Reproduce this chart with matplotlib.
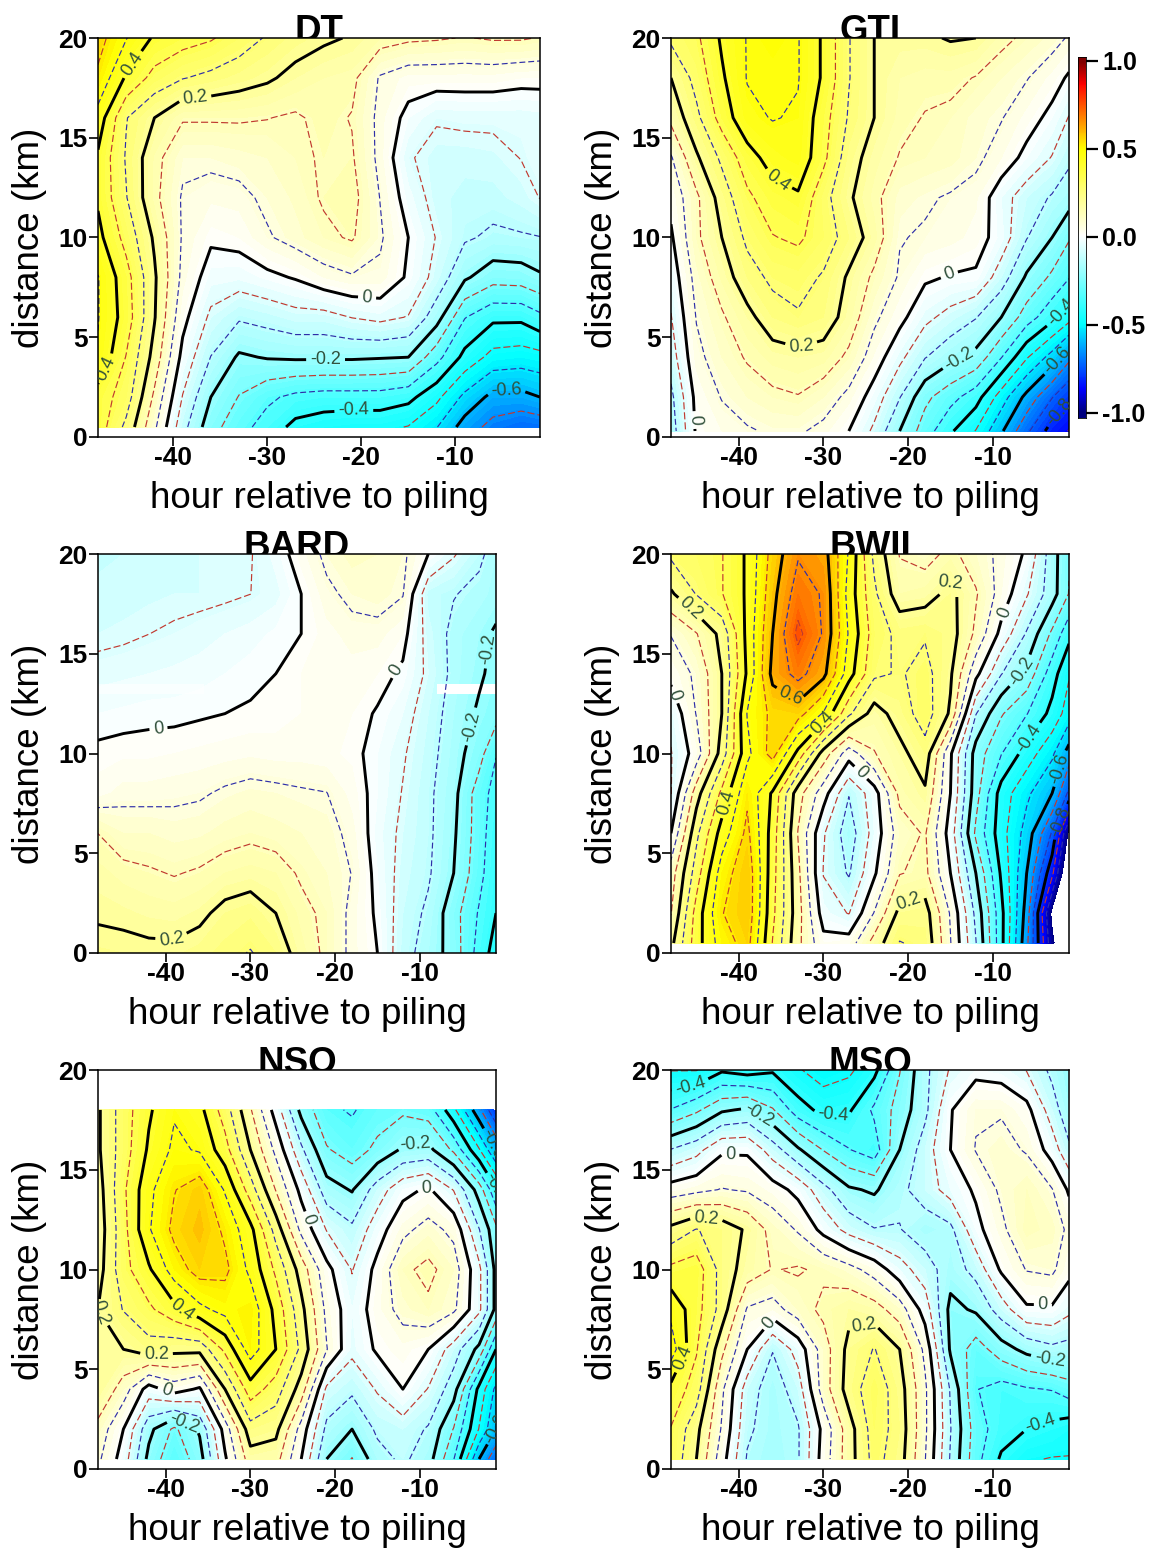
import numpy as np
import matplotlib
matplotlib.use("Agg")
import matplotlib.pyplot as plt
from matplotlib.colors import LinearSegmentedColormap
from matplotlib.patches import Rectangle

plt.rcParams['font.family'] = ['Liberation Sans', 'DejaVu Sans']
plt.rcParams['axes.unicode_minus'] = False

hours = [-48, -45, -42, -39, -36, -33, -30, -27, -24, -21, -18, -15, -12, -9, -6, -3, -1]
km_main = [0.5, 2, 4, 6, 8, 10, 12, 14, 16, 18, 20]
km_gti = [0.3, 2, 4, 6, 8, 10, 12, 14, 16, 18, 20]
km_bard = [0, 2, 4, 6, 8, 10, 12, 14, 16, 18, 20]
km_nso = [0.5, 2, 4, 6, 8, 10, 12, 14, 16, 18]

# rows run from the nearest distance up to the farthest
dt_z = [
    [.37, .25, .08, -.11, -.24, -.31, -.36, -.42, -.44, -.45, -.45, -.47, -.53, -.63, -.69, -.72, -.71],
    [.37, .30, .12, -.07, -.20, -.27, -.32, -.35, -.36, -.36, -.36, -.38, -.45, -.55, -.62, -.62, -.60],
    [.46, .33, .175, -.02, -.135, -.21, -.195, -.19, -.19, -.19, -.195, -.20, -.31, -.42, -.49, -.50, -.49],
    [.47, .37, .205, .02, -.08, -.125, -.11, -.09, -.09, -.065, -.05, -.07, -.17, -.33, -.385, -.385, -.35],
    [.47, .36, .21, .05, -.03, -.035, -.015, .005, .04, .06, .055, -.01, -.09, -.19, -.24, -.235, -.21],
    [.42, .31, .19, .06, .01, .02, .06, .09, .12, .14, .075, 0, -.07, -.125, -.145, -.14, -.135],
    [.39, .27, .15, .06, .045, .05, .08, .105, .14, .155, .065, -.03, -.09, -.11, -.11, -.09, -.065],
    [.39, .26, .155, .08, .08, .09, .10, .12, .14, .14, .05, -.06, -.09, -.09, -.085, -.065, -.05],
    [.44, .27, .20, .14, .14, .14, .135, .125, .15, .13, .05, -.02, -.06, -.055, -.055, -.055, -.05],
    [.52, .39, .31, .27, .25, .23, .21, .18, .16, .15, .06, .03, .03, .03, .03, .02, .02],
    [.56, .47, .39, .36, .34, .30, .26, .23, .21, .195, .16, .145, .14, .13, .14, .14, .13],
]
gti_z = [
    [-.17, .01, .04, .06, .075, .075, .05, 0, -.08, -.20, -.30, -.39, -.47, -.59, -.72, -.83, -.87],
    [-.15, .02, .07, .10, .12, .13, .10, .05, -.03, -.13, -.25, -.31, -.37, -.50, -.62, -.73, -.79],
    [-.10, .05, .10, .14, .17, .18, .17, .12, .035, -.05, -.13, -.18, -.22, -.33, -.46, -.56, -.65],
    [-.07, .07, .125, .18, .24, .26, .24, .17, .08, .02, -.05, -.09, -.13, -.20, -.30, -.38, -.44],
    [-.04, .09, .165, .24, .28, .29, .26, .19, .12, .06, .01, -.005, -.01, -.10, -.21, -.28, -.33],
    [-.01, .12, .20, .28, .33, .345, .30, .24, .17, .07, .06, .05, .03, -.03, -.13, -.20, -.26],
    [.02, .12, .23, .32, .37, .39, .29, .21, .15, .09, .075, .06, .045, -.04, -.10, -.14, -.17],
    [.06, .19, .28, .37, .43, .45, .35, .23, .17, .13, .12, .11, .08, .04, -.02, -.07, -.12],
    [.15, .25, .36, .45, .47, .46, .36, .26, .20, .15, .13, .12, .09, .07, .03, -.02, -.07],
    [.20, .29, .39, .47, .47, .47, .39, .27, .20, .16, .15, .15, .13, .10, .07, .03, -.01],
    [.28, .32, .41, .47, .49, .47, .39, .27, .20, .19, .19, .205, .20, .15, .12, .09, .06],
]
bard_z = [
    [.225, .22, .215, .215, .23, .25, .27, .24, .17, .12, .05, 0, -.11, -.16, -.23, -.36, -.43],
    [.19, .185, .175, .17, .185, .22, .235, .20, .15, .12, .05, -.01, -.10, -.145, -.24, -.34, -.40],
    [.17, .15, .14, .13, .14, .16, .17, .16, .125, .10, .065, -.02, -.09, -.125, -.20, -.31, -.39],
    [.133, .10, .10, .09, .095, .11, .12, .11, .10, .09, .05, -.03, -.08, -.12, -.19, -.30, -.38],
    [.03, .05, .05, .055, .06, .075, .085, .08, .073, .068, .03, -.02, -.07, -.12, -.18, -.30, -.36],
    [.01, .015, .015, .02, .025, .03, .035, .03, .03, .025, .015, -.02, -.06, -.11, -.17, -.24, -.33],
    [-.02, -.015, -.01, -.01, -.005, 0, .005, .01, .02, .025, .02, -.005, -.04, -.10, -.16, -.21, -.24],
    [-.05, -.045, -.04, -.035, -.03, -.02, -.01, 0, .02, .035, .03, .02, -.01, -.08, -.15, -.19, -.22],
    [-.08, -.075, -.067, -.06, -.05, -.04, -.03, -.015, 0, .03, .05, .05, .02, -.09, -.15, -.18, -.21],
    [-.09, -.09, -.085, -.08, -.08, -.075, -.067, -.05, 0, .055, .08, .09, .07, -.11, -.13, -.15, -.17],
    [-.11, -.10, -.095, -.09, -.08, -.075, -.07, -.03, .03, .08, .11, .10, .08, 0, -.06, -.12, -.16],
]
bwii_z = [
    [.18, .37, .50, .56, .33, .15, .02, .03, .16, .27, .25, .07, -.13, -.38, -.65, -.98, -1.15],
    [.13, .36, .53, .58, .35, .16, -.03, -.07, .07, .22, .23, .06, -.15, -.38, -.63, -1.02, -1.12],
    [.10, .30, .50, .58, .36, .15, -.07, -.14, -.01, .13, .15, 0, -.20, -.41, -.60, -.85, -1.10],
    [0, .25, .43, .55, .37, .13, -.06, -.17, -.04, .10, .14, -.03, -.28, -.44, -.56, -.74, -1.02],
    [-.07, .17, .35, .52, .39, .16, .03, -.13, -.03, .15, .19, 0, -.24, -.43, -.52, -.60, -.75],
    [-.07, .03, .23, .45, .56, .38, .17, .03, .13, .18, .24, .01, -.23, -.33, -.43, -.52, -.63],
    [-.05, .07, .20, .47, .55, .56, .46, .28, .17, .23, .30, .19, -.13, -.26, -.33, -.42, -.50],
    [.02, .08, .20, .41, .62, .69, .62, .43, .28, .26, .29, .21, .02, -.13, -.22, -.37, -.46],
    [.07, .13, .22, .42, .60, .75, .66, .46, .30, .25, .26, .23, .12, -.02, -.14, -.28, -.38],
    [.19, .27, .33, .41, .58, .70, .66, .44, .28, .16, .17, .22, .14, .04, -.06, -.17, -.27],
    [.28, .30, .33, .41, .56, .66, .63, .46, .25, .13, .11, .15, .10, .05, -.01, -.17, -.26],
]
nso_z = [
    [.08, -.03, -.22, -.32, -.23, -.01, .17, .16, 0, -.20, -.27, -.16, -.12, -.17, -.33, -.60, -.72],
    [.11, 0, -.18, -.28, -.19, .03, .24, .22, .04, -.15, -.20, -.12, -.10, -.14, -.27, -.47, -.60],
    [.20, .10, -.03, .03, -.01, .20, .37, .30, .17, -.08, -.12, -.06, 0, -.07, -.17, -.42, -.55],
    [.18, .20, .24, .22, .22, .35, .50, .40, .25, .07, -.05, .01, .03, 0, -.10, -.22, -.40],
    [.20, .27, .32, .38, .45, .49, .51, .38, .22, .05, -.04, .03, .09, .12, .08, -.05, -.22],
    [.17, .31, .39, .50, .56, .55, .45, .32, .17, .02, -.07, .02, .12, .15, .10, -.05, -.22],
    [.16, .31, .46, .55, .59, .52, .42, .24, .05, -.07, -.12, -.03, .05, .09, .05, -.13, -.25],
    [.17, .32, .45, .53, .57, .46, .30, .13, -.02, -.17, -.205, -.10, -.02, .01, -.07, -.23, -.39],
    [.19, .30, .41, .48, .46, .36, .20, .05, -.12, -.26, -.30, -.25, -.19, -.18, -.28, -.46, -.60],
    [.19, .30, .39, .46, .42, .30, .14, -.03, -.22, -.32, -.34, -.30, -.28, -.30, -.45, -.65, -.80],
]
mso_z = [
    [.32, .20, .03, -.14, -.18, -.14, .03, .17, .29, .23, .07, -.14, -.31, -.41, -.46, -.47, -.47],
    [.33, .22, .06, -.12, -.17, -.14, .02, .17, .30, .24, .08, -.13, -.30, -.37, -.40, -.42, -.44],
    [.38, .30, .08, -.10, -.17, -.10, .10, .23, .31, .23, .08, -.14, -.33, -.36, -.34, -.33, -.30],
    [.50, .34, .15, 0, -.13, -.04, .10, .22, .27, .20, .05, -.21, -.30, -.23, -.18, -.15, -.16],
    [.45, .36, .24, .06, .04, .10, .15, .18, .16, .10, -.03, -.22, -.19, -.10, -.01, -.01, -.05],
    [.35, .37, .24, .17, .13, .14, .12, .09, .04, -.04, -.10, -.17, -.11, .01, .07, .08, .02],
    [.22, .27, .24, .19, .11, .06, -.02, -.09, -.13, -.13, -.17, -.15, -.02, .05, .13, .11, .05],
    [.03, .05, .07, .06, .03, -.02, -.11, -.19, -.21, -.15, -.10, -.04, .01, .08, .12, .07, -.01],
    [-.13, -.09, -.01, -.01, -.10, -.19, -.27, -.33, -.37, -.20, -.10, 0, .07, .09, .06, -.03, -.12],
    [-.33, -.28, -.21, -.19, -.26, -.37, -.42, -.41, -.32, -.24, -.15, -.005, .06, .06, .02, -.10, -.18],
    [-.47, -.47, -.41, -.43, -.41, -.46, -.50, -.48, -.42, -.27, -.15, -.06, -.02, -.03, -.07, -.15, -.20],
]

names = ['DT', 'GTI', 'BARD', 'BWII', 'NSO', 'MSO']
rows_km = [km_main, km_gti, km_bard, km_main, km_nso, km_main]
fields = [dt_z, gti_z, bard_z, bwii_z, nso_z, mso_z]
# axes boxes in pixels: left, right, top, bottom
boxes = [
    (98, 540, 38, 437), (671, 1069, 38, 437),
    (98, 496, 554, 953), (671, 1069, 554, 953),
    (98, 496, 1070, 1469), (671, 1069, 1070, 1469),
]
label_spots = [
    [(-44.1, 18.6), (-47, 3.4), (-37.7, 17), (-19.4, 6.9), (-23.8, 4.2), (-20.8, 1.2), (-4.6, 2.1)],
    [(-45.2, .85), (-35.5, 12.8), (-32.6, 4.5), (-15.1, 8.1), (-13.8, 3.8), (-2.2, 6.3), (-2.2, 3.8), (-2.2, 1.3)],
    [(-40.8, 11), (-13.2, 14.3), (-39.3, .6), (-1.5, 15.2), (-3.4, 11.3)],
    [(-45.4, 17.4), (-47.1, 13), (-41.2, 7.5), (-34.6, 12.4), (-29.8, 11.4), (-25.2, 9.2), (-19.5, 1.9),
     (-14.9, 18.8), (-8.1, 17), (-7, 14.2), (-5.5, 10.7), (-1.7, 9.2), (-1.5, 6.5)],
    [(-46.9, 8), (-38, 8), (-41.2, 6.2), (-39.4, 4.5), (-38.4, 1.9), (-23.5, 12.5), (-10.4, 15.9),
     (-9.2, 14), (-2, 16.2), (-1.7, 13.7), (-1.5, 2.7)],
    [(-45.6, 19), (-38.1, 17.5), (-41, 15.7), (-43.7, 13), (-28.9, 18), (-36, 7.2), (-25.2, 7.1),
     (-46.8, 5.6), (-4.1, 7.9), (-3.3, 5.4), (-4.1, 2)],
]

black_levels = [-.8, -.6, -.4, -.2, 0, .2, .4, .6, .8]
red_levels = [v - .0667 for v in black_levels]
blue_levels = [v - .1333 for v in black_levels]
xticks = [-40, -30, -20, -10]
yticks = [0, 5, 10, 15, 20]
cbar_ticks = [-1.0, -0.5, 0.0, 0.5, 1.0]

W, H = 1150, 1548
cmap = LinearSegmentedColormap.from_list('bwr_like', [
    (0.0, '#00007F'), (0.0625, '#0000FF'), (0.25, '#00FFFF'), (0.5, '#FFFFFF'),
    (0.75, '#FFFF00'), (0.9375, '#FF0000'), (1.0, '#7F0000')])


def px_axes(fig, left, right, top, bottom):
    return fig.add_axes([left / W, 1 - bottom / H, (right - left) / W, (bottom - top) / H])


def fmt_level(v):
    if abs(v) < 1e-6:
        return '0'
    return f'{v:.1f}'


fig = plt.figure(figsize=(W / 100, H / 100), dpi=100)

for i, name in enumerate(names):
    left, right, top, bottom = boxes[i]
    ax = px_axes(fig, left, right, top, bottom)
    z = np.array(fields[i], dtype=float)
    ax.contourf(hours, rows_km[i], z, levels=np.linspace(-1, 1, 101), cmap=cmap, vmin=-1, vmax=1, zorder=1)
    if name == 'BARD':
        ax.add_patch(Rectangle((-8, 13), 7, .5, color='white', lw=0, zorder=1.5))
        ax.add_patch(Rectangle((-48, 13), 12.5, .5, color='white', alpha=.6, lw=0, zorder=1.5))
    ax.contour(hours, rows_km[i], z, levels=red_levels, colors='#C0392F', linewidths=.85,
               linestyles=[(0, (6, 2.5))], zorder=2)
    ax.contour(hours, rows_km[i], z, levels=blue_levels, colors='#2E2EA8', linewidths=.85,
               linestyles=[(0, (5, 2.5))], zorder=2)
    cs = ax.contour(hours, rows_km[i], z, levels=black_levels, colors='black', linewidths=2.1,
                    linestyles='solid', zorder=3)
    labs = ax.clabel(cs, fmt=fmt_level, fontsize=13, manual=label_spots[i], inline=True, inline_spacing=4)
    for t in labs:
        t.set_color('#2F4F3A')

    ax.set_xlim(-48, -1)
    ax.set_ylim(0, 20)
    ax.set_xticks(xticks)
    ax.set_yticks(yticks)
    ax.tick_params(length=6.5, width=1.2, labelsize=19)
    ax.tick_params(axis='x', pad=0)
    ax.tick_params(axis='y', pad=1)
    for t in ax.get_xticklabels() + ax.get_yticklabels():
        t.set_fontweight('bold')
    for s in ax.spines.values():
        s.set_linewidth(1.1)
    ax.set_xlabel('hour relative to piling', fontsize=26.5, labelpad=8)
    ax.set_ylabel('distance (km)', fontsize=26.5, labelpad=8)
    # title sits behind the axes so the frame cuts into it
    fig.text((left + right) / 2 / W, 1 - (top + 3) / H, name, fontsize=26.5, fontweight='bold',
             ha='center', va='baseline', zorder=-1)

cax = px_axes(fig, 1078, 1086, 57, 418)
bar_vals = np.linspace(1.02, -1.03, 256).reshape(-1, 1)
cax.imshow(bar_vals, cmap=cmap, vmin=-1, vmax=1, aspect='auto', extent=[0, 1, -1.03, 1.02])
cax.set_xticks([])
cax.yaxis.tick_right()
cax.set_yticks(cbar_ticks)
cax.set_yticklabels([f'{v:.1f}' for v in cbar_ticks])
cax.tick_params(length=8.5, width=1.6, labelsize=18, pad=3)
for t in cax.get_yticklabels():
    t.set_fontweight('bold')
for s in cax.spines.values():
    s.set_linewidth(.6)

fig.savefig('out.png', dpi=100)
